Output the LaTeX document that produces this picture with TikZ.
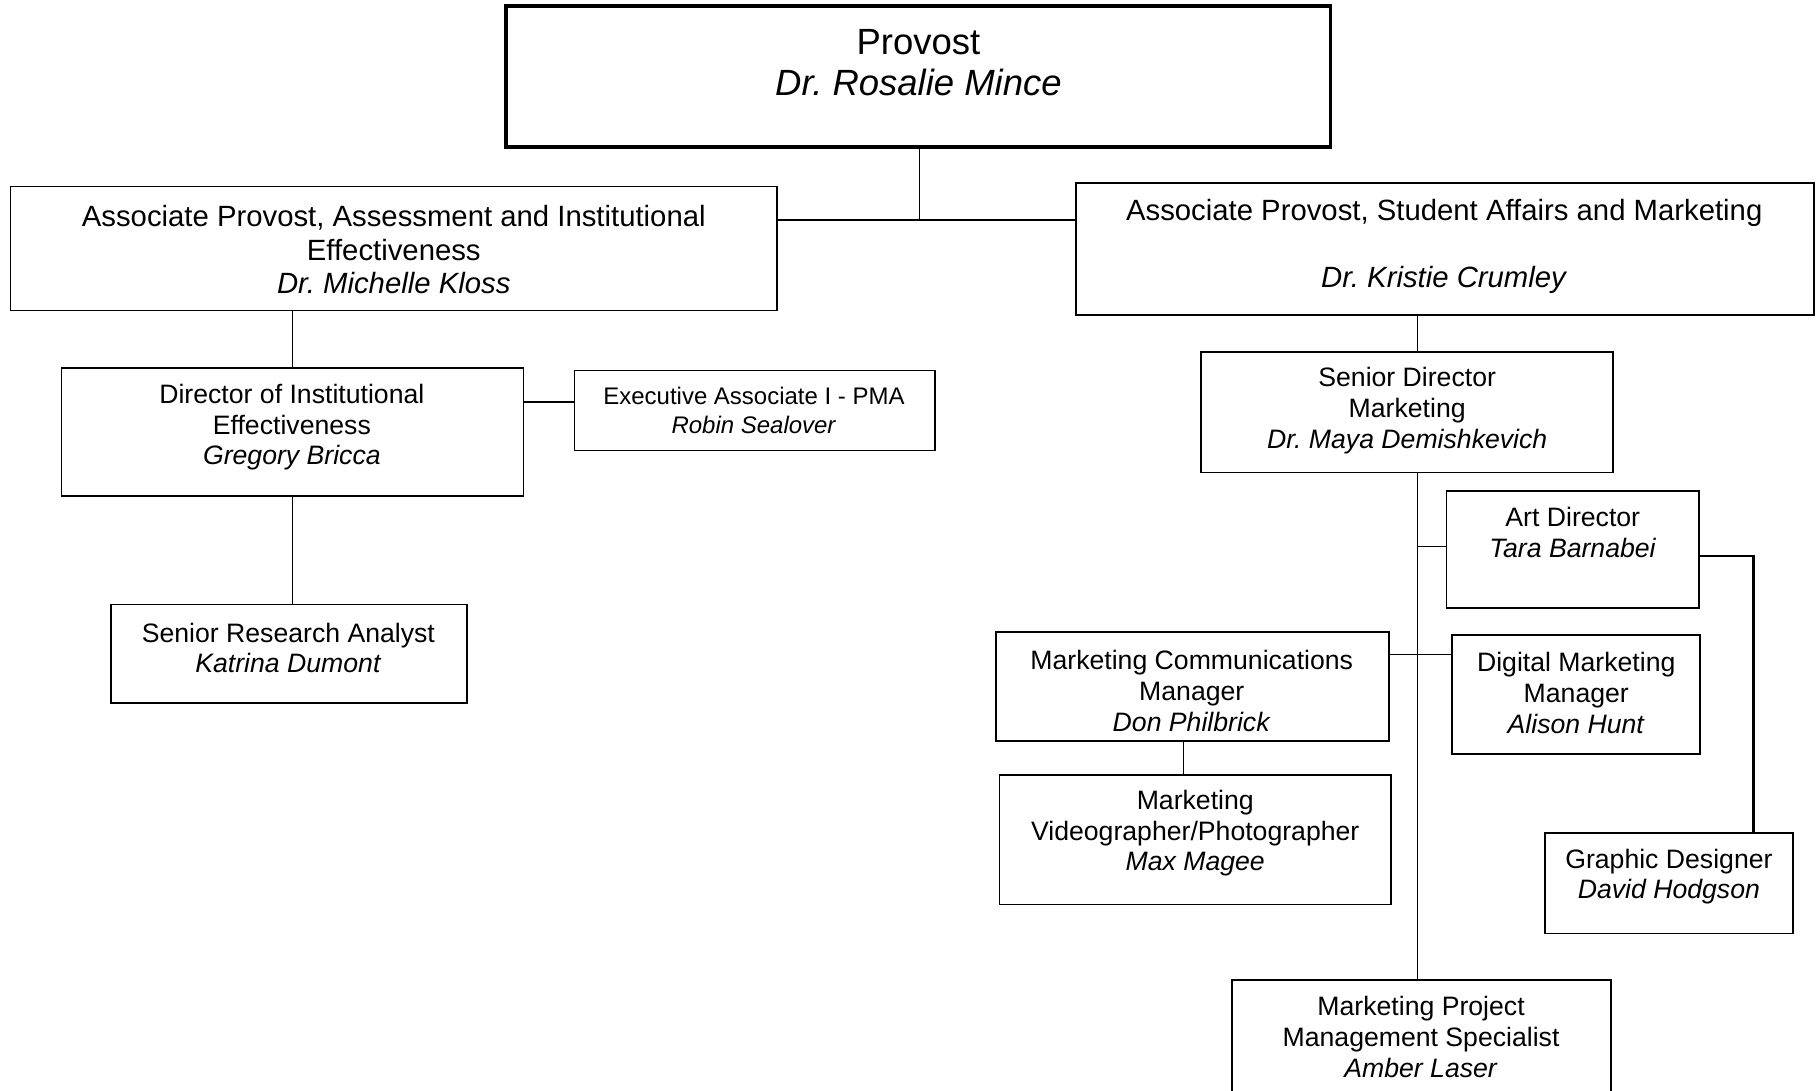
\documentclass[tikz,border=0pt]{standalone}
\usepackage{fontspec}
\setmainfont{Liberation Sans}
\frenchspacing
\tikzset{
  box/.style={draw, line width=1.5pt, inner sep=0pt, rectangle},
  bigbox/.style={draw, line width=3pt, inner sep=0pt, rectangle},
  txt/.style={inner sep=0pt, align=center, font=\fontsize{23}{26.5}\selectfont},
  txtl/.style={inner sep=0pt, align=center, font=\fontsize{25.3}{29}\selectfont},
  txts/.style={inner sep=0pt, align=center, font=\fontsize{20.7}{25}\selectfont},
  txtb/.style={inner sep=0pt, align=center, font=\fontsize{31.5}{36}\selectfont},
  conn/.style={line width=1.3pt},
}
\begin{document}
\begin{tikzpicture}[x=1pt,y=-1pt]
\useasboundingbox (0,0) rectangle (1568,942);
\clip (0,0) rectangle (1568,942);
\fill[white] (0,0) rectangle (1568,942);
% boxes
\node[bigbox, minimum width=712pt, minimum height=122pt] (provost) at (793,66) {};
\node[box, minimum width=662pt, minimum height=107pt] (ap1) at (340,214.5) {};
\node[box, minimum width=637pt, minimum height=114pt] (ap2) at (1247.5,215) {};
\node[box, minimum width=399pt, minimum height=110pt] (die) at (252.5,373) {};
\node[box, minimum width=311pt, minimum height=69pt] (ea) at (651.5,354.5) {};
\node[box, minimum width=307pt, minimum height=85pt] (sra) at (249.5,564.5) {};
\node[box, minimum width=356pt, minimum height=104pt] (sdm) at (1215,356) {};
\node[box, minimum width=218pt, minimum height=101pt] (ad) at (1358,474.5) {};
\node[box, minimum width=339pt, minimum height=94pt] (mcm) at (1029.5,593) {};
\node[box, minimum width=214pt, minimum height=103pt] (dmm) at (1361,599.5) {};
\node[box, minimum width=338pt, minimum height=112pt] (mv) at (1032,725) {};
\node[box, minimum width=214pt, minimum height=87pt] (gd) at (1441,762.5) {};
\node[box, minimum width=327pt, minimum height=114pt] (mpms) at (1227.5,903) {};
% texts
\node[txtb] (tprovost) at (793,54) {Provost\\\textit{Dr. Rosalie Mince}};
\node[txtl] (tap1) at (340,215.5) {Associate Provost, Assessment and Institutional\\Effectiveness\\\textit{Dr. Michelle Kloss}};
\node[txtl] (tap2) at (1247,213) {Associate Provost, Student Affairs and Marketing\\[29pt]\textit{Dr. Kristie Crumley}};
\node[txt] (tdie) at (252,369) {Director of Institutional\\Effectiveness\\\textit{Gregory Bricca}};
\node[txts] (tea) at (651,354.5) {Executive Associate I - PMA\\\textit{Robin Sealover}};
\node[txt] (tsra) at (249,559.5) {Senior Research Analyst\\\textit{Katrina Dumont}};
\node[txt] (tsdm) at (1215,354.5) {Senior Director\\Marketing\\\textit{Dr. Maya Demishkevich}};
\node[txt] (tad) at (1358,460) {Art Director\\\textit{Tara Barnabei}};
\node[txt] (tmcm) at (1029,596.5) {Marketing Communications\\Manager\\\textit{Don Philbrick}};
\node[txt] (tdmm) at (1361,598.5) {Digital Marketing\\Manager\\\textit{Alison Hunt}};
\node[txt] (tmv) at (1032,719.5) {Marketing\\Videographer/Photographer\\\textit{Max Magee}};
\node[txt] (tgd) at (1441,757) {Graphic Designer\\\textit{David Hodgson}};
\node[txt] (tmpms) at (1227,895.5) {Marketing Project\\Management Specialist\\\textit{Amber Laser}};
% junction coordinates
\coordinate (jp) at (794,190);
\coordinate (jea) at (0,347);
\coordinate (tr) at (1224,0);
\coordinate (jad) at (1224,472);
\coordinate (jmd) at (0,565);
\coordinate (jmv) at (1022,0);
\coordinate (jg) at (1514,480);
% connectors
\draw[conn] (provost.south -| jp) -- (jp);
\draw[conn] (ap1.east |- jp) -- (ap2.west |- jp);
\draw[conn] (ap1.south -| die.north) -- (die.north);
\draw[conn] (die.east |- jea) -- (ea.west |- jea);
\draw[conn] (die.south) -- (die.south |- sra.north);
\draw[conn] (ap2.south -| tr) -- (sdm.north -| tr);
\draw[conn] (sdm.south -| tr) -- (mpms.north -| tr);
\draw[conn] (jad) -- (ad.west |- jad);
\draw[conn] (mcm.east |- jmd) -- (dmm.west |- jmd);
\draw[conn] (mcm.south -| jmv) -- (mv.north -| jmv);
\draw[conn, line width=1.8pt] (ad.east |- jg) -- (jg) -- (gd.north -| jg);
\end{tikzpicture}
\end{document}
